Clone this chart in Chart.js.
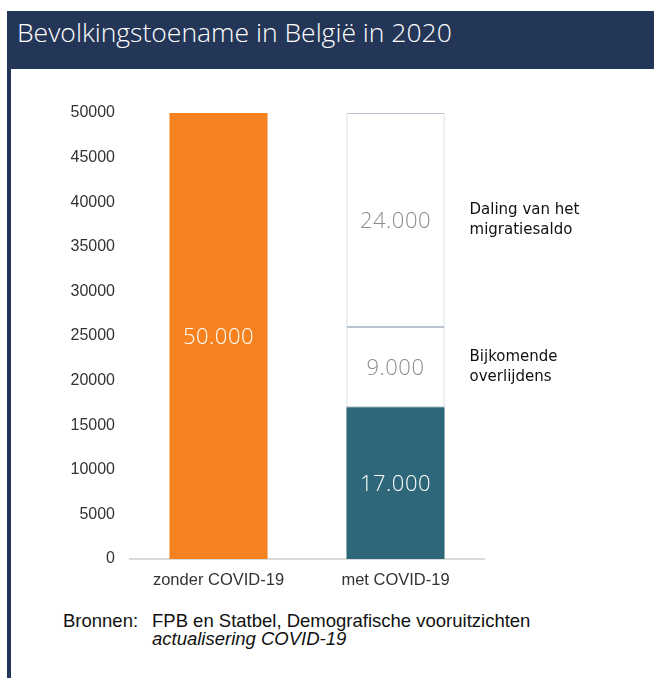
<!DOCTYPE html>
<html>
<head>
<meta charset="utf-8">
<script src="https://cdn.jsdelivr.net/npm/chart.js@4.4.1/dist/chart.umd.min.js"></script>
<style>
  body { margin: 0; background: #fff; width: 654px; height: 678px; position: relative; overflow: hidden; }
  #band { position: absolute; left: 7px; top: 11px; width: 647px; height: 58px; background: #243657; }
  #title { position: absolute; left: 17px; top: 19px; font: 300 26.5px "Open Sans"; line-height: 26px; color: #fff; white-space: nowrap; }
  #rule { position: absolute; left: 7px; top: 69px; width: 4px; height: 609px; background: #243657; }
  #chart { position: absolute; left: 0; top: 70px; }
  .src { position: absolute; top: 612px; font: 18.5px "Liberation Sans"; line-height: 18px; color: #111; white-space: nowrap; }
</style>
</head>
<body>
<div id="band"></div>
<div id="title">Bevolkingstoename in België in 2020</div>
<div id="rule"></div>
<canvas id="chart" width="654" height="530"></canvas>
<div class="src" style="left:63px">Bronnen:</div>
<div class="src" style="left:152px">FPB en Statbel, Demografische vooruitzichten<br><i>actualisering COVID-19</i></div>

<script>
// data
const categories = ["zonder COVID-19", "met COVID-19"];
const baseValues = [50000, 17000];        // groei zonder / met COVID-19
const extraDeaths = [null, 9000];          // bijkomende overlijdens
const migrationDrop = [null, 24000];       // daling van het migratiesaldo
const yTicks = [0, 5000, 10000, 15000, 20000, 25000, 30000, 35000, 40000, 45000, 50000];
const notes = [null, ["Bijkomende", "overlijdens"], ["Daling van het", "migratiesaldo"]];

const whiteBorder = "#b9c4d0";

function fmt(v) {
  return String(v).replace(/\B(?=(\d{3})+(?!\d))/g, ".");
}

// draws the values in the bars and the notes next to them
const barText = {
  id: "barText",
  afterDatasetsDraw(chart) {
    const ctx = chart.ctx;
    ctx.save();
    chart.data.datasets.forEach((ds, i) => {
      const meta = chart.getDatasetMeta(i);
      meta.data.forEach((bar, j) => {
        const v = ds.data[j];
        if (v == null) return;
        const cy = (bar.y + bar.base) / 2;
        ctx.font = "300 22px 'Open Sans'";
        ctx.letterSpacing = "0.5px";
        ctx.textAlign = "center";
        ctx.textBaseline = "middle";
        ctx.fillStyle = ds.labelColor;
        ctx.fillText(fmt(v), bar.x, cy + 2);
        ctx.letterSpacing = "0px";
        if (notes[i]) {
          ctx.font = "15px 'DejaVu Sans'";
          ctx.textAlign = "left";
          ctx.fillStyle = "#111";
          const lines = notes[i];
          lines.forEach((t, k) => {
            ctx.fillText(t, bar.x + bar.width / 2 + 25, cy + (k - (lines.length - 1) / 2) * 20);
          });
        }
      });
    });
    ctx.restore();
  },
};

const data = {
  labels: categories,
  datasets: [
    {
      label: "Bevolkingstoename",
      data: baseValues,
      backgroundColor: ["#f5821f", "#2e6779"],
      borderWidth: 0,
      labelColor: "#ffffff",
    },
    {
      label: "Bijkomende overlijdens",
      data: extraDeaths,
      backgroundColor: "#ffffff",
      borderColor: whiteBorder,
      borderWidth: 1,
      borderSkipped: false,
      labelColor: "#8c8c8c",
    },
    {
      label: "Daling van het migratiesaldo",
      data: migrationDrop,
      backgroundColor: "#ffffff",
      borderColor: whiteBorder,
      borderWidth: 1,
      borderSkipped: false,
      labelColor: "#8c8c8c",
    },
  ],
};

const config = {
  type: "bar",
  data: data,
  options: {
    responsive: false,
    animation: false,
    layout: { padding: { top: 43, right: 170, left: 0, bottom: 0 } },
    datasets: { bar: { categoryPercentage: 1, barPercentage: 0.554 } },
    plugins: { legend: { display: false }, tooltip: { enabled: false } },
    scales: {
      x: {
        stacked: true,
        grid: { display: false, drawTicks: false },
        border: { display: true, color: "#d9d9d9", width: 2 },
        ticks: { color: "#333", padding: 12, font: { family: "Liberation Sans", size: 16.5 } },
        afterFit(scale) { scale.height = 41; },
      },
      y: {
        stacked: true,
        min: 0,
        max: 50000,
        grid: { display: false, drawTicks: false },
        border: { display: false },
        afterBuildTicks(scale) { scale.ticks = yTicks.map(v => ({ value: v })); },
        ticks: {
          color: "#333",
          padding: 15,
          font: { family: "Liberation Sans", size: 16 },
          callback: (v) => String(v),
        },
        afterFit(scale) { scale.width = 130; },
      },
    },
  },
  plugins: [barText],
};

const myChart = new Chart(document.getElementById("chart"), config);
</script>
</body>
</html>
